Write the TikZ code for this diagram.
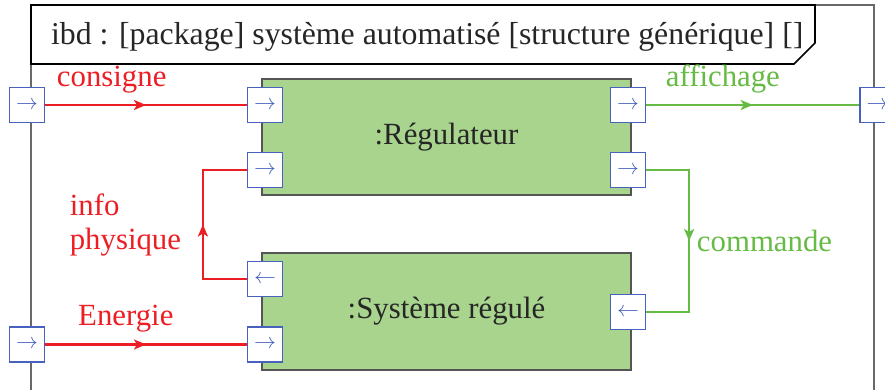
\documentclass[tikz,border=0pt]{standalone}
\usepackage{fontspec}
\setmainfont{Liberation Serif}
\usepackage{tikz}
\usetikzlibrary{arrows.meta,decorations.markings}

\definecolor{rouge}{RGB}{236,30,36}
\definecolor{vertf}{RGB}{102,187,68}
\definecolor{vertbloc}{RGB}{168,212,142}
\definecolor{bleuport}{RGB}{70,98,190}
\definecolor{bordbloc}{RGB}{85,85,85}
\definecolor{cadre}{RGB}{105,105,105}

\begin{document}
\begin{tikzpicture}[x=0.5pt, y=-0.5pt,
	font=\fontsize{15.4}{17}\selectfont,
	bloc/.style={draw=bordbloc, fill=vertbloc, line width=0.7pt,
		minimum width=184.5pt, minimum height=58pt, text=black!85},
	port/.style={draw=bleuport, fill=white, line width=0.6pt,
		minimum size=17.5pt, inner sep=0pt, text=bleuport,
		font=\fontsize{11}{11}\selectfont},
	flux/.style={line width=1.2pt},
	milieu/.style={postaction={decorate, decoration={markings,
		mark=at position 0.5 with {\arrow{Stealth[length=6pt,width=5pt,inset=1.5pt]}}}}}]
\useasboundingbox (0, 0) rectangle (885, 390);
\clip (0, 0) rectangle (885, 390);
\draw[cadre, line width=0.8pt] (31, 400) -- (31, 5) -- (874, 5) -- (874, 400);
\draw[line width=0.8pt, fill=white]
	(31, 5) -- (815, 5) -- (815, 43) -- (794, 64) -- (31, 64) -- cycle;
\node[anchor=base west, text=black!85, font=\fontsize{15.9}{17}\selectfont]
	(titre) at (44, 45)
	{ibd : [package] système automatisé [structure générique] []};

\node[bloc] (regul) at (446.5, 137) {:Régulateur};
\node[bloc, minimum height=58.5pt] (syst) at (446.5, 311.5) {:Système régulé};

\node[port] (pc) at (27, 105) {$\rightarrow$};
\node[port] (pe) at (27, 344.5) {$\rightarrow$};
\node[port] (pa) at (877.5, 105) {$\rightarrow$};
\node[port] (r1) at (265, 105) {$\rightarrow$};
\node[port] (r2) at (265, 170) {$\rightarrow$};
\node[port] (r3) at (628, 105) {$\rightarrow$};
\node[port] (r4) at (628, 170) {$\rightarrow$};
\node[port] (s1) at (265, 279) {$\leftarrow$};
\node[port] (s2) at (265, 344.5) {$\rightarrow$};
\node[port] (s3) at (628, 312) {$\leftarrow$};

\draw[rouge, flux, milieu] (pc) -- node[above=2pt, pos=0.33] {consigne} (r1);
\draw[rouge, flux, milieu] (pe) -- node[above=2pt, pos=0.4] {Energie} (s2);
\draw[vertf, flux, milieu] (r3) -- node[above=2pt, pos=0.36] {affichage} (pa);
\draw[vertf, flux, milieu] (r4.east) -- ++(43, 0)
	|- node[right, pos=0.25] {commande} (s3.east);
\draw[rouge, flux, milieu] (s1.west) -- ++(-44, 0)
	|- node[left, pos=0.25, align=left, xshift=-7pt] {info\\physique} (r2.west);
\end{tikzpicture}
\end{document}
